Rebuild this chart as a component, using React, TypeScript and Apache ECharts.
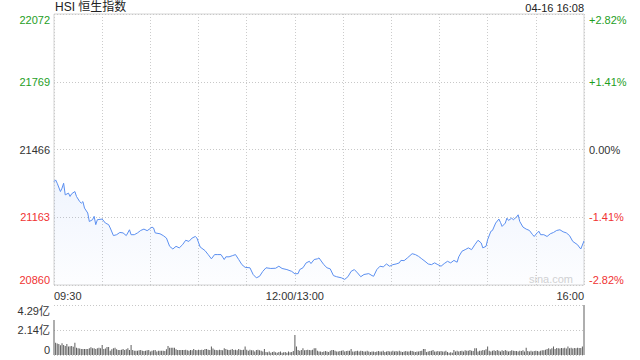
import React, { useEffect, useRef } from "react";
import * as echarts from "echarts";

const PREV_CLOSE = 21466;
const PRICE_STEP = 303;

const priceTimes = [
  "09:30","09:31","09:32","09:34","09:35","09:36","09:37","09:39","09:40","09:41",
  "09:43","09:44","09:46","09:47","09:48","09:49","09:51","09:52","09:54","09:55",
  "09:56","09:57","10:00","10:02","10:04","10:05","10:07","10:09","10:11","10:13",
  "10:15","10:17","10:18","10:20","10:22","10:24","10:26","10:28","10:30","10:31",
  "10:32","10:33","10:36","10:38","10:40","10:42","10:44","10:46","10:48","10:50",
  "10:52","10:54","10:56","10:58","10:59","11:01","11:04","11:06","11:08","11:10",
  "11:12","11:14","11:16","11:17","11:19","11:21","11:23","11:25","11:27","11:29",
  "11:32","11:34","11:36","11:38","11:40","11:42","11:45","11:48","11:50","11:52",
  "11:55","11:58","12:00",
  "13:02","13:03","13:05","13:07","13:09","13:10","13:12","13:14","13:15","13:18",
  "13:20","13:22","13:24","13:26","13:29","13:31","13:33","13:35","13:37","13:39",
  "13:41","13:43","13:46","13:48","13:49","13:51","13:53","13:55","13:57","13:59",
  "14:01","14:03","14:05","14:06","14:08","14:10","14:13","14:15","14:17","14:19",
  "14:21","14:23","14:25","14:27","14:29","14:31","14:33","14:35","14:37","14:39",
  "14:41","14:42","14:44","14:46","14:48","14:50","14:52","14:54","14:56","14:57",
  "14:59","15:00","15:02","15:03","15:05","15:07","15:08","15:09","15:11","15:12",
  "15:13","15:15","15:16","15:18","15:19","15:20","15:22","15:24","15:26","15:28",
  "15:29","15:31","15:32","15:33","15:35","15:37","15:39","15:41","15:43","15:45",
  "15:47","15:49","15:51","15:53","15:56","15:57","15:58","16:00"
];

const priceValues = [
  21322,21330,21315,21278,21293,21315,21263,21271,21256,21268,
  21278,21256,21233,21226,21233,21204,21182,21144,21152,21167,
  21130,21152,21155,21137,21130,21115,21081,21085,21095,21093,
  21081,21107,21085,21085,21093,21104,21110,21103,21113,21119,
  21115,21093,21089,21081,21070,21033,21021,21033,21026,21040,
  21060,21055,21070,21077,21070,21030,21014,20996,20977,20996,
  20996,20996,20974,20986,20986,20991,20996,20974,20951,20939,
  20937,20907,20892,20899,20921,20937,20934,20935,20944,20934,
  20929,20921,20910,
  20911,20929,20937,20959,20966,20956,20974,20977,20981,20951,
  20937,20932,20902,20897,20892,20885,20897,20921,20929,20914,
  20897,20907,20911,20902,20899,20929,20944,20941,20954,20944,
  20951,20954,20959,20970,20969,20981,21000,20996,20988,20977,
  20966,20954,20951,20959,20951,20944,20956,20966,20959,20970,
  20962,20986,21011,21018,21026,21018,21040,21060,21048,21026,
  21033,21063,21100,21104,21137,21155,21140,21122,21137,21159,
  21149,21159,21152,21164,21174,21144,21119,21110,21104,21085,
  21077,21095,21100,21085,21085,21077,21089,21095,21104,21107,
  21098,21093,21081,21055,21040,21030,21021,21057
];

// per-minute turnover (亿), minute 0 = 09:30, minute 150 = 12:00/13:00, minute 330 = 16:00
const volumes = [
  3.00,1.06,0.98,0.94,0.83,1.00,0.85,0.77,0.94,0.72,
  0.75,0.77,0.70,1.06,0.63,0.57,0.55,0.51,0.51,0.51,
  0.51,0.52,0.57,0.66,0.57,0.57,0.51,0.57,0.63,0.57,
  0.86,0.51,0.55,0.69,0.69,0.37,0.50,0.57,0.63,0.49,
  0.43,0.43,0.46,0.51,0.43,0.50,0.57,0.43,0.86,0.43,
  0.37,0.37,0.37,0.40,0.43,0.37,0.34,0.37,0.40,0.43,
  0.29,0.37,0.40,0.43,0.29,0.37,0.37,0.37,0.37,0.34,
  0.50,0.77,0.63,0.63,0.63,0.63,0.49,0.43,0.43,0.43,
  0.43,0.43,0.46,0.40,0.37,0.43,0.40,0.51,0.43,0.40,
  0.46,0.43,0.46,0.43,0.51,0.51,0.46,0.43,0.72,0.55,
  0.46,0.43,0.40,0.46,0.43,0.40,0.57,0.51,0.46,0.43,
  0.46,0.51,0.43,0.46,0.40,0.51,0.46,0.43,0.46,0.72,
  0.46,0.37,0.46,0.40,0.40,0.29,0.43,0.46,0.40,0.37,
  0.29,0.51,0.26,0.23,0.29,0.20,0.26,0.31,0.23,0.20,
  0.26,0.29,0.20,0.23,0.26,0.20,0.29,0.23,0.26,0.34,
  1.72,0.72,0.43,0.37,0.43,0.57,0.40,0.43,0.46,0.43,
  0.40,0.46,0.57,0.57,0.37,0.29,0.31,0.26,0.29,0.34,
  0.29,0.26,0.37,0.43,0.43,0.37,0.31,0.29,0.34,0.37,
  0.40,0.31,0.34,0.37,0.37,0.51,0.29,0.31,0.34,0.37,
  0.29,0.37,0.34,0.31,0.29,0.37,0.31,0.26,0.29,0.31,
  0.26,0.29,0.34,0.31,0.29,0.37,0.26,0.31,0.34,0.29,
  0.31,0.37,0.29,0.34,0.31,0.37,0.29,0.26,0.31,0.34,
  0.29,0.31,0.37,0.34,0.29,0.26,0.31,0.29,0.34,0.37,
  0.51,0.51,0.26,0.31,0.34,0.37,0.43,0.29,0.31,0.34,
  0.29,0.34,0.31,0.29,0.37,0.26,0.20,0.23,0.20,0.43,
  0.31,0.37,0.29,0.34,0.37,0.31,0.40,0.37,0.37,0.43,
  0.37,0.34,0.57,0.57,0.31,0.37,0.37,0.43,0.40,0.49,
  0.72,0.37,0.31,0.37,0.40,0.34,0.43,0.37,0.31,0.40,
  0.34,0.43,0.37,0.31,0.34,0.40,0.37,0.34,0.34,0.31,
  0.37,0.34,0.40,0.31,0.63,0.34,0.29,0.37,0.31,0.34,
  0.37,0.34,0.31,0.37,0.40,0.40,0.46,0.51,0.57,0.49,
  0.57,0.72,0.51,0.60,0.57,0.55,0.60,0.57,0.63,0.55,
  0.72,0.57,0.63,0.55,0.60,0.57,0.63,0.60,0.60,0.72,
  4.29
];

const volumeTickLabels = ["0", "2.14亿", "4.29亿"];
const VOLUME_MAX = 4.29;

const xTickMinutes = ["09:30", "12:00", "16:00"];
const xTickLabels = ["09:30", "12:00/13:00", "16:00"];

const TITLE = "HSI 恒生指数";
const STAMP = "04-16 16:08";
const WATERMARK = "sina.com";

const FONT = "'Liberation Sans', Arial, 'Noto Sans CJK SC', sans-serif";
const GREEN = "#1e9e1e";
const RED = "#f03333";
const DARK = "#333333";

function toIndex(t: string): number {
  const [h, m] = t.split(":").map(Number);
  const mins = h * 60 + m;
  if (mins <= 12 * 60) return mins - (9 * 60 + 30);
  return 150 + (mins - 13 * 60);
}

export default function App() {
  const ref = useRef<HTMLDivElement>(null);

  useEffect(() => {
    if (!ref.current) return;
    const chart = echarts.init(ref.current, null, { renderer: "svg" });

    const lineData = priceTimes.map((t, i) => [toIndex(t), priceValues[i] - PREV_CLOSE]);
    const volData = volumes.map((v, i) => [i, v]);
    const tickIdx = xTickMinutes.map(toIndex);

    const richColors = {
      up: { color: GREEN, fontSize: 11, fontFamily: FONT },
      flat: { color: DARK, fontSize: 11, fontFamily: FONT },
      down: { color: RED, fontSize: 11, fontFamily: FONT },
    };
    const tag = (v: number) => (v > 0.001 ? "up" : v < -0.001 ? "down" : "flat");

    const option: any = {
      animation: false,
      textStyle: { fontFamily: FONT },
      grid: [
        { left: 54, right: 56, top: 14, height: 271, show: true, borderColor: "#d4d4d4", borderWidth: 1, backgroundColor: "transparent" },
        { left: 54, right: 56, top: 305, height: 50, show: false },
      ],
      xAxis: [
        {
          type: "value",
          gridIndex: 0,
          min: 0,
          max: 330,
          interval: 30,
          axisLine: { show: false },
          axisTick: { show: false },
          axisLabel: {
            show: true,
            margin: 5,
            fontSize: 11,
            color: DARK,
            fontFamily: FONT,
            showMinLabel: true,
            showMaxLabel: true,
            alignMinLabel: "left",
            alignMaxLabel: "right",
            formatter: (v: number) => {
              const k = tickIdx.indexOf(v);
              return k >= 0 ? xTickLabels[k] : "";
            },
          },
          splitLine: { show: true, lineStyle: { color: "#cccccc", type: [1, 2], width: 1 } },
        },
        {
          type: "value",
          gridIndex: 1,
          min: 0,
          max: 330,
          interval: 30,
          axisLine: { show: false },
          axisTick: { show: false },
          axisLabel: { show: false },
          splitLine: { show: false },
        },
      ],
      yAxis: [
        {
          type: "value",
          gridIndex: 0,
          position: "left",
          min: -2 * PRICE_STEP,
          max: 2 * PRICE_STEP,
          interval: PRICE_STEP,
          axisLine: { show: false },
          axisTick: { show: false },
          splitLine: { show: true, lineStyle: { color: "#c8c8c8", type: [1, 2], width: 1 } },
          axisLabel: {
            margin: 4,
            fontSize: 11,
            verticalAlignMinLabel: "bottom",
            verticalAlignMaxLabel: "top",
            formatter: (v: number) => `{${tag(v)}|${PREV_CLOSE + v}}`,
            rich: richColors,
          },
        },
        {
          type: "value",
          gridIndex: 0,
          position: "right",
          min: -2 * PRICE_STEP,
          max: 2 * PRICE_STEP,
          interval: PRICE_STEP,
          axisLine: { show: false },
          axisTick: { show: false },
          splitLine: { show: false },
          axisLabel: {
            margin: 5,
            fontSize: 11,
            verticalAlignMinLabel: "bottom",
            verticalAlignMaxLabel: "top",
            formatter: (v: number) => {
              const p = (v / PREV_CLOSE) * 100;
              const s = (p > 0.001 ? "+" : "") + p.toFixed(2) + "%";
              return `{${tag(v)}|${s}}`;
            },
            rich: richColors,
          },
        },
        {
          type: "value",
          gridIndex: 1,
          min: 0,
          max: VOLUME_MAX,
          interval: VOLUME_MAX / 2,
          axisLine: { show: false },
          axisTick: { show: false },
          splitLine: { show: true, lineStyle: { color: "#c8c8c8", type: [1, 2], width: 1 } },
          axisLabel: {
            margin: 4,
            fontSize: 11,
            color: DARK,
            fontFamily: FONT,
            verticalAlignMinLabel: "bottom",
            verticalAlignMaxLabel: "top",
            formatter: (_v: number, i: number) => volumeTickLabels[i] ?? "",
          },
        },
      ],
      series: [
        {
          type: "line",
          xAxisIndex: 0,
          yAxisIndex: 0,
          data: lineData,
          symbol: "none",
          lineStyle: { color: "#5b8ff0", width: 1 },
          areaStyle: {
            origin: "start",
            color: new echarts.graphic.LinearGradient(0, 0, 0, 1, [
              { offset: 0, color: "rgba(91,143,240,0.13)" },
              { offset: 1, color: "rgba(91,143,240,0.02)" },
            ]),
          },
        },
        {
          type: "bar",
          xAxisIndex: 1,
          yAxisIndex: 2,
          data: volData,
          barWidth: 1,
          itemStyle: { color: "#5e5e5e" },
        },
      ],
      graphic: [
        {
          type: "text",
          left: 55,
          top: 1,
          style: { text: TITLE, fontSize: 12, fill: "#222", fontFamily: FONT },
        },
        {
          type: "text",
          right: 56,
          top: 2,
          style: { text: STAMP, fontSize: 11, fill: "#222", fontFamily: FONT },
        },
        {
          type: "text",
          right: 67,
          top: 273,
          style: { text: WATERMARK, fontSize: 11, fill: "#d2d2d2", fontFamily: FONT },
        },
      ],
    };

    chart.setOption(option);
    return () => chart.dispose();
  }, []);

  return <div ref={ref} style={{ width: 640, height: 360, position: "absolute", left: 0, top: 0 }} />;
}
